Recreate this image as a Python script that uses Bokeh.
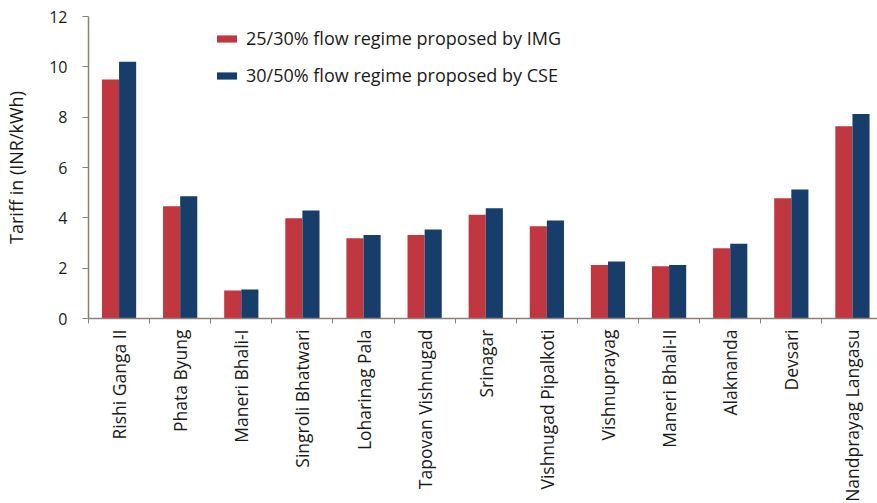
import math
from bokeh.plotting import figure
from bokeh.models import ColumnDataSource, FixedTicker, Range1d, Legend, LegendItem
from bokeh.transform import dodge
from bokeh.embed import file_html
from bokeh.resources import INLINE

projects = ["Rishi Ganga II", "Phata Byung", "Maneri Bhali-I", "Singroli Bhatwari",
            "Loharinag Pala", "Tapovan Vishnugad", "Srinagar", "Vishnugad Pipalkoti",
            "Vishnuprayag", "Maneri Bhali-II", "Alaknanda", "Devsari", "Nandprayag Langasu"]
img_tariff = [9.5, 4.46, 1.11, 3.98, 3.19, 3.32, 4.12, 3.67, 2.13, 2.08, 2.79, 4.78, 7.64]
cse_tariff = [10.2, 4.86, 1.15, 4.29, 3.32, 3.54, 4.38, 3.89, 2.26, 2.13, 2.97, 5.13, 8.13]
y_ticks = [0, 2, 4, 6, 8, 10, 12]
series_labels = ["25/30% flow regime proposed by IMG", "30/50% flow regime proposed by CSE"]

RED = "#c1373f"
BLUE = "#173d6b"
AXIS = "#8a817a"
FONT = "Open Sans"

pos = list(range(1, len(projects) + 1))
src = ColumnDataSource(dict(x=pos, img=img_tariff, cse=cse_tariff))

p = figure(output_backend="svg", toolbar_location=None,
           frame_width=789, frame_height=302,
           x_range=Range1d(0.5, 13.41), y_range=Range1d(0, 12))
p.min_border_left = 88
p.min_border_top = 16
p.min_border_right = 0
p.min_border_bottom = 0
p.outline_line_color = None
p.background_fill_color = "white"
p.border_fill_color = "white"
p.xgrid.grid_line_color = None
p.ygrid.grid_line_color = None

r1 = p.vbar(x=dodge("x", -0.14, range=p.x_range), top="img", width=0.28, bottom=0,
            source=src, fill_color=RED, line_color=None)
r2 = p.vbar(x=dodge("x", 0.14, range=p.x_range), top="cse", width=0.28, bottom=0,
            source=src, fill_color=BLUE, line_color=None)

# x axis
xa = p.xaxis[0]
xa.ticker = FixedTicker(ticks=pos, minor_ticks=[i - 0.5 for i in pos])
xa.major_label_overrides = {i: n for i, n in zip(pos, projects)}
xa.major_label_orientation = math.pi / 2
xa.major_tick_line_color = None
xa.major_tick_out = 4
xa.major_tick_in = 0
xa.minor_tick_line_color = AXIS
xa.minor_tick_out = 5
xa.minor_tick_in = 0
xa.axis_line_color = AXIS
xa.axis_line_width = 1.5
xa.major_label_standoff = 6
xa.major_label_text_font = FONT
xa.major_label_text_font_size = "17.5px"
xa.major_label_text_color = "#1a1a1a"

# y axis
ya = p.yaxis[0]
ya.ticker = FixedTicker(ticks=y_ticks, minor_ticks=[])
ya.axis_line_color = AXIS
ya.axis_line_width = 1.5
ya.major_tick_line_color = AXIS
ya.major_tick_out = 6
ya.major_tick_in = 0
ya.minor_tick_line_color = None
ya.major_label_text_font = FONT
ya.major_label_text_font_size = "16px"
ya.major_label_text_color = "#1a1a1a"
ya.major_label_standoff = 15
ya.axis_label = "Tariff in (INR/kWh)"
ya.axis_label_text_font = FONT
ya.axis_label_text_font_size = "18px"
ya.axis_label_text_font_style = "normal"
ya.axis_label_text_color = "#1a1a1a"
ya.axis_label_standoff = 18

legend = Legend(items=[LegendItem(label=series_labels[0], renderers=[r1]),
                       LegendItem(label=series_labels[1], renderers=[r2])],
                location=(126, 231))
legend.border_line_color = None
legend.background_fill_alpha = 0
legend.padding = 0
legend.margin = 0
legend.glyph_width = 25
legend.glyph_height = 9
legend.label_height = 22
legend.spacing = 13
legend.label_standoff = 7
legend.label_text_font = FONT
legend.label_text_font_size = "18px"
legend.label_text_color = "#1a1a1a"
p.add_layout(legend, "center")

open("out.html", "w").write(file_html(p, INLINE))
